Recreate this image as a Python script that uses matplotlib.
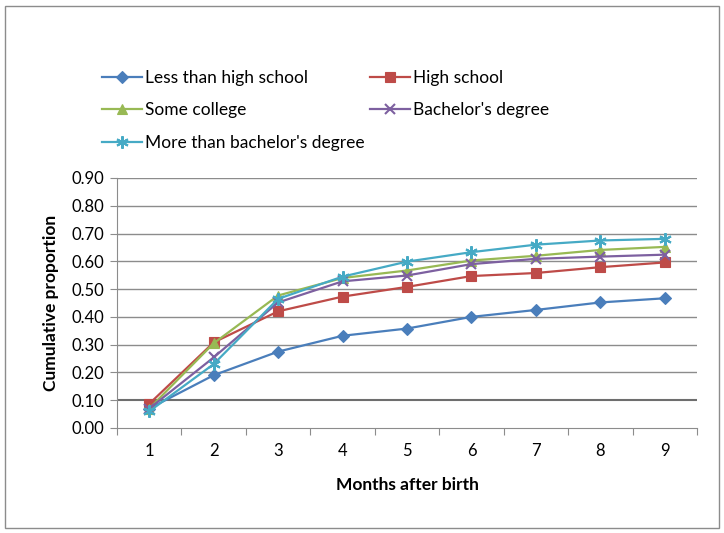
import matplotlib.pyplot as plt
from matplotlib.patches import Rectangle

plt.rcParams['font.family'] = ['Lato', 'DejaVu Sans']

months = [1, 2, 3, 4, 5, 6, 7, 8, 9]
less_hs = [0.07, 0.19, 0.275, 0.332, 0.358, 0.40, 0.425, 0.452, 0.467]
high_school = [0.087, 0.308, 0.42, 0.473, 0.508, 0.547, 0.558, 0.579, 0.596]
some_college = [0.07, 0.305, 0.477, 0.54, 0.567, 0.603, 0.62, 0.641, 0.652]
bachelors = [0.07, 0.254, 0.452, 0.528, 0.549, 0.59, 0.609, 0.617, 0.624]
more_bach = [0.06, 0.23, 0.465, 0.545, 0.599, 0.633, 0.66, 0.675, 0.681]

series = [
    ("Less than high school", less_hs, "#4A7EBB", "D", 6),
    ("High school", high_school, "#BE4B48", "s", 7),
    ("Some college", some_college, "#98B954", "^", 7),
    ("Bachelor's degree", bachelors, "#7D60A0", "x", 7),
    ("More than bachelor's degree", more_bach, "#46AAC5", (6, 2, 0), 9),
]

fig = plt.figure(figsize=(7.24, 5.33), dpi=100)
ax = fig.add_axes([117 / 724, 1 - 428 / 533, 580 / 724, 250 / 533])

handles = []
for name, vals, col, mk, ms in series:
    h, = ax.plot(months, vals, color=col, marker=mk, markersize=ms, linewidth=1.6,
                 markeredgewidth=1.5 if mk in ("x", (6, 2, 0)) else 0.8,
                 markeredgecolor=col, label=name)
    handles.append(h)

ax.set_xlim(0.5, 9.5)
ax.set_ylim(0, 0.9)
yt = [i / 10 for i in range(10)]
ax.set_yticks(yt)
ax.set_yticklabels([f"{v:.2f}" for v in yt], fontsize=12)
for v in yt[1:]:
    ax.axhline(v, color="#6e6e6e" if v == 0.1 else "#8c8c8c",
               linewidth=1.5 if v == 0.1 else 1.0, zorder=0)

ax.set_xticks([m + 0.5 for m in [0] + months])
ax.set_xticklabels([])
ax.set_xticks(months, minor=True)
ax.set_xticklabels([str(m) for m in months], minor=True, fontsize=12)
ax.tick_params(axis="x", which="major", length=5, color="#8c8c8c")
ax.tick_params(axis="x", which="minor", length=0, pad=11)
ax.tick_params(axis="y", length=5, color="#8c8c8c", pad=4)

for s in ["top", "right"]:
    ax.spines[s].set_visible(False)
for s in ["left", "bottom"]:
    ax.spines[s].set_color("#8c8c8c")

ax.set_ylabel("Cumulative proportion", fontsize=12.5, fontweight="bold", labelpad=9)
ax.set_xlabel("Months after birth", fontsize=12.5, fontweight="bold", labelpad=13)

# legend fills column-first, so reorder to read row by row like the original
order = [0, 2, 4, 1, 3]
fig.legend([handles[i] for i in order], [series[i][0] for i in order],
           loc="upper left", bbox_to_anchor=(86 / 724, 1 - 54 / 533), ncol=2,
           frameon=False, fontsize=12.5, handlelength=2.3, handletextpad=0.2,
           columnspacing=0.3, labelspacing=0.95)

fig.patches.append(Rectangle((5 / 724, 5 / 533), 714 / 724, 522 / 533,
                             transform=fig.transFigure, fill=False,
                             edgecolor="#8c8c8c", linewidth=1))

fig.savefig("out.png", dpi=100)
